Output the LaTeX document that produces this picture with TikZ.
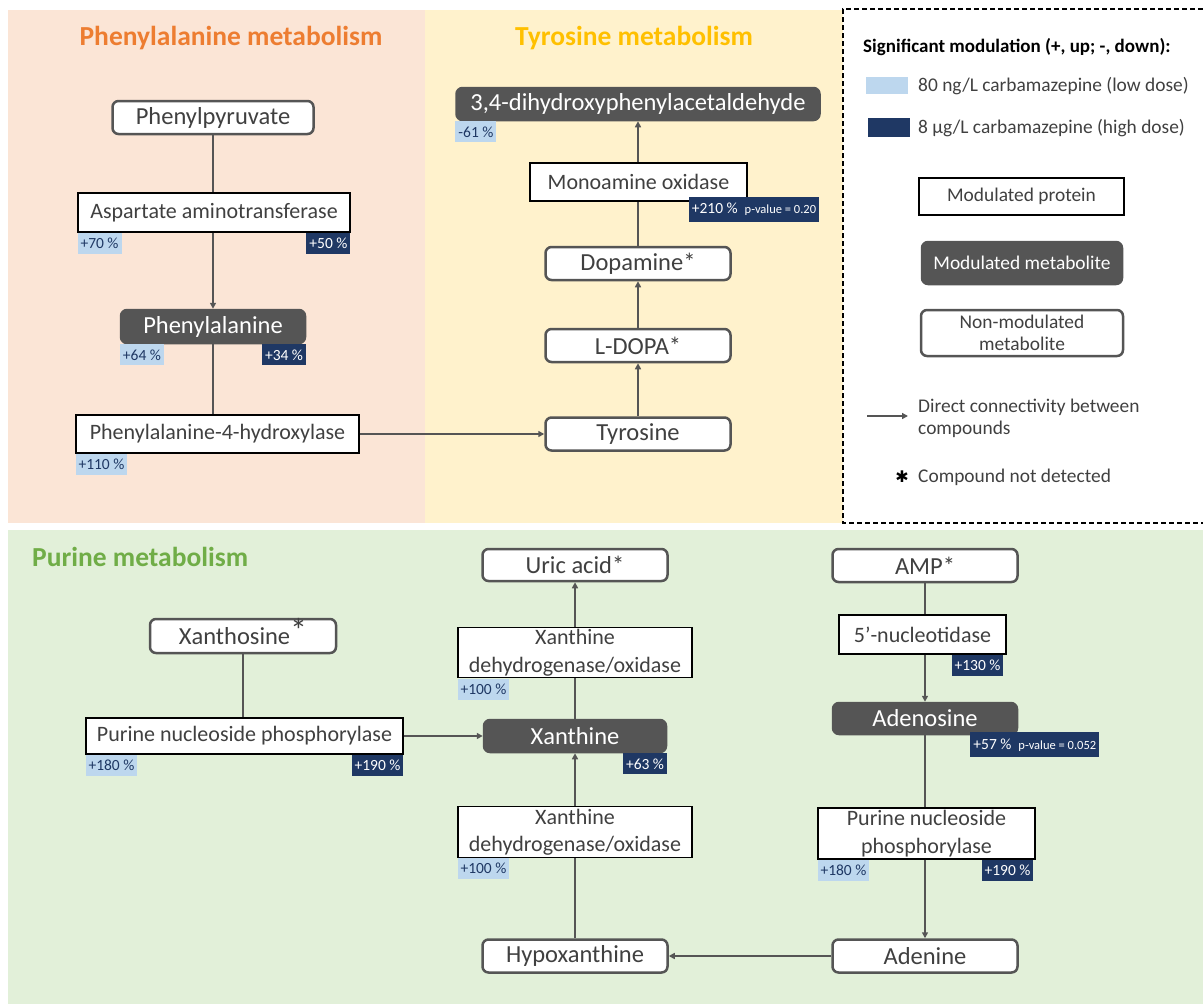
\documentclass[tikz,border=0pt]{standalone}
\usepackage{fontspec}
\setmainfont{Carlito}
\newfontfamily\symbfont{DejaVu Sans}
\usepackage{xcolor}
\usepackage{tikz}
\usetikzlibrary{arrows.meta,positioning,calc}

\definecolor{peachbg}{HTML}{FBE5D6}
\definecolor{yellowbg}{HTML}{FFF2CC}
\definecolor{greenbg}{HTML}{E2F0D9}
\definecolor{titleorange}{HTML}{ED7D31}
\definecolor{titlegold}{HTML}{FFC000}
\definecolor{titlegreen}{HTML}{70AD47}
\definecolor{darkfill}{HTML}{555555}
\definecolor{nodeline}{HTML}{555555}
\definecolor{linegray}{HTML}{555555}
\definecolor{txtgray}{HTML}{404040}
\definecolor{lowblue}{HTML}{BDD7EE}
\definecolor{highblue}{HTML}{1F3864}

\newcommand{\metabfont}{\fontsize{24.5}{28}\selectfont}
\newcommand{\protfont}{\fontsize{22}{27.5}\selectfont}
\newcommand{\pctfont}{\fontsize{15.5}{18}\selectfont}
\newcommand{\pvalfont}{\fontsize{12.5}{15}\selectfont}
\newcommand{\titlefont}{\fontsize{27.5}{32}\selectfont\bfseries}
\newcommand{\legfont}{\fontsize{19.4}{22}\selectfont}
\newcommand{\legheadfont}{\fontsize{19}{22}\selectfont\bfseries}

\begin{document}
\begin{tikzpicture}[
    x=1pt, y=-1pt,
    metab/.style={draw=nodeline, line width=2.5pt, rounded corners=6pt, fill=white,
                  text=txtgray, font=\metabfont, align=center, inner sep=2pt,
                  minimum width=185pt, minimum height=33pt},
    modmet/.style={metab, draw=darkfill, fill=darkfill, text=white},
    protein/.style={draw=black, line width=1.3pt, fill=white, text=txtgray,
                    font=\protfont, align=center, inner sep=2pt, minimum height=38pt},
    lowlab/.style={fill=lowblue, text=highblue, font=\pctfont, inner xsep=3pt,
                   inner ysep=0pt, minimum height=21pt},
    highlab/.style={lowlab, fill=highblue, text=white},
    paneltitle/.style={font=\titlefont, inner sep=0pt},
    legtext/.style={text=txtgray, font=\legfont, inner sep=2pt},
    link/.style={draw=linegray, line width=2.5pt},
    arrow/.style={link, -{Triangle[length=6pt, width=6pt]}}
]
\useasboundingbox (0,0) rectangle (1203,1007);

% panels
\fill[peachbg] (8,10) rectangle (425,523);
\fill[yellowbg] (425,10) rectangle (843,523);
\fill[greenbg] (8,530) rectangle (1203,1004);
\draw[black, line width=1.5pt, dash pattern=on 5pt off 3pt]
    (1203,9) -- (843,9) -- (843,523) -- (1203,523);

\node[paneltitle, text=titleorange] (phetitle) at (231,38) {Phenylalanine metabolism};
\node[paneltitle, text=titlegold] (tyrtitle) at (634,38) {Tyrosine metabolism};
\node[paneltitle, text=titlegreen, anchor=west] (purtitle) at (32,557) {Purine metabolism};

% phenylalanine metabolism
\node[metab, minimum width=201pt] (ppyr) at (213,117.5) {Phenylpyruvate};
\node[protein, minimum width=272pt, minimum height=39pt] (ast) at (214,212.5) {Aspartate aminotransferase};
\node[lowlab, below right=0pt and 0pt of ast.south west] (astlo) {+70 \%};
\node[highlab, below left=0pt and 0pt of ast.south east] (asthi) {+50 \%};
\node[modmet, minimum width=184pt] (phe) at (213,326.5) {Phenylalanine};
\node[lowlab, below right=0pt and 0pt of phe.south west] (phelo) {+64 \%};
\node[highlab, below left=0pt and 0pt of phe.south east] (phehi) {+34 \%};
\node[protein, minimum width=283pt] (pah) at (217.5,434) {Phenylalanine-4-hydroxylase};
\node[lowlab, below right=0pt and 0pt of pah.south west] (pahlo) {+110 \%};

% tyrosine metabolism
\node[modmet, minimum width=363pt, minimum height=32pt] (dopal) at (638,104) {3,4-dihydroxyphenylacetaldehyde};
\node[lowlab, below right=0pt and 0pt of dopal.south west] (dopallo) {-61 \%};
\node[protein, minimum width=217pt] (mao) at (638.5,182) {Monoamine oxidase};
\node[highlab, anchor=north west, minimum height=25pt] (maohi) at ($(mao.south east)+(-59,-5)$)
    {+210 \%\hspace{7pt}{\pvalfont p-value = 0.20}};
\node[metab] (dopa) at (638,263.5) {Dopamine*};
\node[metab] (ldopa) at (638,345.5) {L-DOPA*};
\node[metab] (tyr) at (638,434) {Tyrosine};

% legend
\node[anchor=west, font=\legheadfont, inner sep=0pt] (leghead) at (863,47) {Significant modulation (+, up; -, down):};
\node[fill=lowblue, minimum width=42pt, minimum height=17pt, inner sep=0pt] (swlo) at (887,85.5) {};
\node[legtext, anchor=west] (swlotxt) at (916,86) {80 ng/L carbamazepine (low dose)};
\node[fill=highblue, minimum width=42pt, minimum height=19pt, inner sep=0pt] (swhi) at (889,127.5) {};
\node[legtext, anchor=west] (swhitxt) at (916,128) {8 µg/L carbamazepine (high dose)};
\node[protein, minimum width=205pt, minimum height=37pt, font=\legfont] (legprot) at (1021.5,196.5) {Modulated protein};
\node[modmet, minimum width=200pt, minimum height=42pt, font=\legfont] (legmod) at (1022,263) {Modulated metabolite};
\node[metab, minimum width=202pt, minimum height=46pt, font=\legfont] (legnon) at (1022,333) {Non-modulated\\metabolite};
\coordinate (legarrA) at (867,416);
\coordinate (legarrB) at (908,416);
\node[legtext, anchor=west, align=left] (legarrtxt) at (916,418) {Direct connectivity between\\compounds};
\node[font=\symbfont\fontsize{16}{16}\selectfont, inner sep=0pt] (legstar) at (902,477) {✱};
\node[legtext, anchor=west] (legstartxt) at (916,477) {Compound not detected};

% purine metabolism
\node[metab, minimum width=186pt, minimum height=34pt] (xao) at (243,636)
    {Xanthosine\smash{\raisebox{2pt}{\fontsize{34}{34}\selectfont *}}};
\node[protein, minimum width=317pt, minimum height=36pt] (pnpl) at (244.5,736) {Purine nucleoside phosphorylase};
\node[lowlab, below right=0pt and 0pt of pnpl.south west] (pnpllo) {+180 \%};
\node[highlab, below left=0pt and 0pt of pnpl.south east] (pnplhi) {+190 \%};

\node[metab, minimum height=32pt] (uric) at (575,565) {Uric acid*};
\node[protein, minimum width=234pt, minimum height=49pt] (xdhup) at (575,652.5) {Xanthine\\dehydrogenase/oxidase};
\node[lowlab, below right=0pt and 0pt of xdhup.south west] (xdhuplo) {+100 \%};
\node[modmet, minimum width=182pt, minimum height=32pt] (xan) at (575,736) {Xanthine};
\node[highlab, below left=0pt and 0pt of xan.south east] (xanhi) {+63 \%};
\node[protein, minimum width=234pt, minimum height=50pt] (xdhdn) at (575,832) {Xanthine\\dehydrogenase/oxidase};
\node[lowlab, below right=0pt and 0pt of xdhdn.south west] (xdhdnlo) {+100 \%};
\node[metab] (hypo) at (575,956) {Hypoxanthine};

\node[metab] (amp) at (925,565.5) {AMP*};
\node[protein, minimum width=167pt, minimum height=39pt] (nt) at (922.5,634.5) {5’-nucleotidase};
\node[highlab, below left=0pt and 3pt of nt.south east] (nthi) {+130 \%};
\node[modmet, minimum width=184pt, minimum height=31pt] (ado) at (925,718.5) {Adenosine};
\node[highlab, anchor=north west, minimum height=25pt] (adohi) at ($(ado.south east)+(-48,-3)$)
    {+57 \%\hspace{7pt}{\pvalfont p-value = 0.052}};
\node[protein, minimum width=217pt, minimum height=51pt] (pnpr) at (926.5,833.5) {Purine nucleoside\\phosphorylase};
\node[lowlab, below right=0pt and 0pt of pnpr.south west] (pnprlo) {+180 \%};
\node[highlab, below left=0pt and 2pt of pnpr.south east] (pnprhi) {+190 \%};
\node[metab] (ade) at (925,956) {Adenine};

% connectors
\draw[link] (ppyr.south) -- (ppyr.south |- ast.north);
\draw[arrow] (phe.north |- ast.south) -- (phe.north);
\draw[link] (phe.south) -- (phe.south |- pah.north);
\draw[arrow] (pah.east) -- (tyr.west);
\draw[arrow] (tyr) -- (ldopa);
\draw[arrow] (ldopa) -- (dopa);
\draw[link] (dopa) -- (dopa.north |- mao.south);
\draw[arrow] (dopal.south |- mao.north) -- (dopal.south);
\draw[arrow] (legarrA) -- (legarrB);

\draw[link] (xao.south) -- (xao.south |- pnpl.north);
\draw[arrow] (pnpl.east) -- (xan.west);
\draw[link] (hypo) -- (xdhdn);
\draw[arrow] (xdhdn) -- (xan);
\draw[link] (xan) -- (xdhup);
\draw[arrow] (xdhup) -- (uric);
\draw[link] (amp.south) -- (amp.south |- nt.north);
\draw[arrow] (amp.south |- nt.south) -- (ado.north);
\draw[link] (ado.south) -- (ado.south |- pnpr.north);
\draw[arrow] (ado.south |- pnpr.south) -- (ade.north);
\draw[arrow] (ade) -- (hypo);
\end{tikzpicture}
\end{document}
